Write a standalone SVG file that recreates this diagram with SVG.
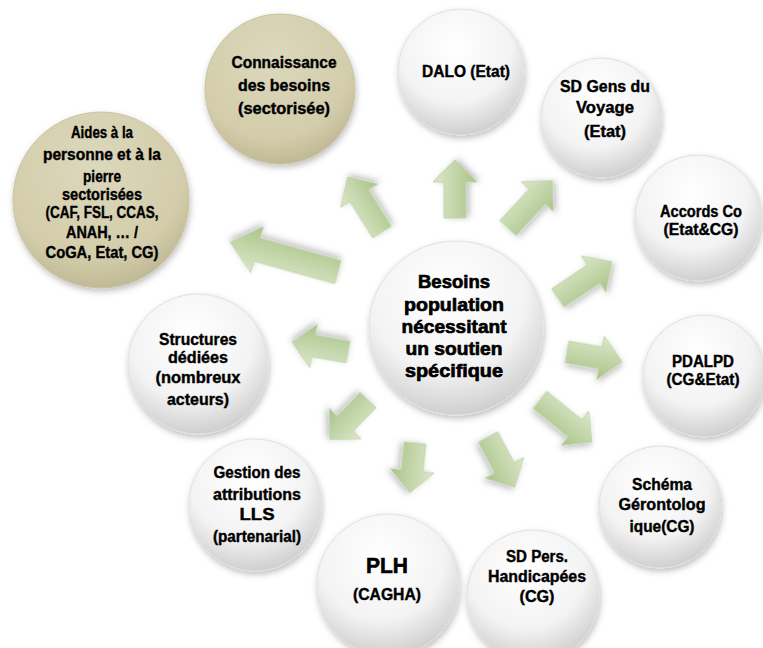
<svg xmlns="http://www.w3.org/2000/svg" width="763" height="648" viewBox="0 0 763 648">
<defs>
<radialGradient id="gw" cx="0.45" cy="0.3" r="0.75">
<stop offset="0" stop-color="#ffffff"/>
<stop offset="0.6" stop-color="#f3f3f3"/>
<stop offset="1" stop-color="#c8c8c8"/>
</radialGradient>
<radialGradient id="gb" cx="0.45" cy="0.3" r="0.75">
<stop offset="0" stop-color="#dcd8bc"/>
<stop offset="0.7" stop-color="#d3cdab"/>
<stop offset="1" stop-color="#b9b38e"/>
</radialGradient>
<linearGradient id="ga" x1="0" y1="0" x2="0" y2="1">
<stop offset="0" stop-color="#dce8c8"/>
<stop offset="1" stop-color="#a9c38a"/>
</linearGradient>
<filter id="sh" x="-20%" y="-20%" width="140%" height="140%">
<feDropShadow dx="1" dy="3" stdDeviation="3" flood-color="#000" flood-opacity="0.25"/>
</filter>
</defs>
<style>
.w{fill:url(#gw);stroke:#e0e0e0;stroke-width:1;filter:url(#sh)}
.b{fill:url(#gb);stroke:#c9c3a0;stroke-width:1;filter:url(#sh)}
.a{fill:url(#ga);stroke:#c3d4ad;stroke-width:1;filter:url(#sh)}
text{font-family:"Liberation Sans",Arial,sans-serif;font-weight:bold;fill:#000;stroke:#000;stroke-width:0.4;text-anchor:middle;font-size:16px}
.c{font-size:19px;stroke-width:0.7}
.p{font-size:22px;stroke-width:0.6}
</style>
<g id="connectors">
<path id="a1" class="a" d="M0,-11 L43,-11 L43,-22 L65,0 L43,22 L43,11 L0,11 Z" transform="translate(382,232) rotate(-122)"/>
<path id="a2" class="a" d="M0,-11 L36,-11 L36,-22 L58,0 L36,22 L36,11 L0,11 Z" transform="translate(455,218) rotate(-90)"/>
<path id="a3" class="a" d="M0,-11 L43,-11 L43,-22 L65,0 L43,22 L43,11 L0,11 Z" transform="translate(508,228) rotate(-47)"/>
<path id="a4" class="a" d="M0,-11 L43,-11 L43,-22 L65,0 L43,22 L43,11 L0,11 Z" transform="translate(558,298) rotate(-34)"/>
<path id="a5" class="a" d="M0,-11 L34,-11 L34,-22 L56,0 L34,22 L34,11 L0,11 Z" transform="translate(567,352) rotate(10)"/>
<path id="a6" class="a" d="M0,-11 L45,-11 L45,-22 L67,0 L45,22 L45,11 L0,11 Z" transform="translate(540,400) rotate(39)"/>
<path id="a7" class="a" d="M0,-11 L35,-11 L35,-22 L57,0 L35,22 L35,11 L0,11 Z" transform="translate(488,437) rotate(62)"/>
<path id="a8" class="a" d="M0,-11 L28,-11 L28,-22 L50,0 L28,22 L28,11 L0,11 Z" transform="translate(415,443) rotate(96)"/>
<path id="a9" class="a" d="M0,-11 L33,-11 L33,-22 L55,0 L33,22 L33,11 L0,11 Z" transform="translate(368,400) rotate(134)"/>
<path id="a10" class="a" d="M0,-11 L35,-11 L35,-22 L57,0 L35,22 L35,11 L0,11 Z" transform="translate(348,352) rotate(190)"/>
<path id="a11" class="a" d="M0,-12 L84,-12 L84,-24 L112,0 L84,24 L84,12 L0,12 Z" transform="translate(338,272) rotate(195.5)"/>
</g>
<g id="center">
<circle class="w" cx="456" cy="328" r="87"/>
<text class="c" x="454" y="288" textLength="72" lengthAdjust="spacingAndGlyphs">Besoins</text>
<text class="c" x="454" y="311" textLength="100" lengthAdjust="spacingAndGlyphs">population</text>
<text class="c" x="454" y="333" textLength="105" lengthAdjust="spacingAndGlyphs">nécessitant</text>
<text class="c" x="454" y="355" textLength="97" lengthAdjust="spacingAndGlyphs">un soutien</text>
<text class="c" x="454" y="377" textLength="98" lengthAdjust="spacingAndGlyphs">spécifique</text>
</g>
<g id="connaissance">
<circle class="b" cx="280" cy="89" r="75"/>
<text x="284" y="68" textLength="105" lengthAdjust="spacingAndGlyphs">Connaissance</text>
<text x="284" y="91" textLength="92" lengthAdjust="spacingAndGlyphs">des besoins</text>
<text x="284" y="114" textLength="92" lengthAdjust="spacingAndGlyphs">(sectorisée)</text>
</g>
<g id="dalo">
<circle class="w" cx="461" cy="72" r="63"/>
<text x="466" y="77" textLength="88" lengthAdjust="spacingAndGlyphs">DALO (Etat)</text>
</g>
<g id="sdgens">
<circle class="w" cx="601" cy="118" r="60"/>
<text x="605" y="92" textLength="90" lengthAdjust="spacingAndGlyphs">SD Gens du</text>
<text x="605" y="113" textLength="58" lengthAdjust="spacingAndGlyphs">Voyage</text>
<text x="605" y="137" textLength="42" lengthAdjust="spacingAndGlyphs">(Etat)</text>
</g>
<g id="accords">
<circle class="w" cx="698" cy="218" r="63"/>
<text x="701" y="217" textLength="82" lengthAdjust="spacingAndGlyphs">Accords Co</text>
<text x="701" y="235" textLength="75" lengthAdjust="spacingAndGlyphs">(Etat&amp;CG)</text>
</g>
<g id="pdalpd">
<circle class="w" cx="704" cy="376" r="61"/>
<text x="703" y="367" textLength="62" lengthAdjust="spacingAndGlyphs">PDALPD</text>
<text x="703" y="385" textLength="73" lengthAdjust="spacingAndGlyphs">(CG&amp;Etat)</text>
</g>
<g id="schema">
<circle class="w" cx="660" cy="507" r="61"/>
<text x="662" y="490" textLength="60" lengthAdjust="spacingAndGlyphs">Schéma</text>
<text x="662" y="510" textLength="87" lengthAdjust="spacingAndGlyphs">Gérontolog</text>
<text x="662" y="532" textLength="65" lengthAdjust="spacingAndGlyphs">ique(CG)</text>
</g>
<g id="sdpers">
<circle class="w" cx="533" cy="596" r="66"/>
<text x="537" y="562" textLength="62" lengthAdjust="spacingAndGlyphs">SD Pers.</text>
<text x="537" y="582" textLength="98" lengthAdjust="spacingAndGlyphs">Handicapées</text>
<text x="537" y="602" textLength="35" lengthAdjust="spacingAndGlyphs">(CG)</text>
</g>
<g id="plh">
<circle class="w" cx="388" cy="585" r="71"/>
<text class="p" x="387" y="573" textLength="42" lengthAdjust="spacingAndGlyphs">PLH</text>
<text x="387" y="600" textLength="68" lengthAdjust="spacingAndGlyphs">(CAGHA)</text>
</g>
<g id="gestion">
<circle class="w" cx="255" cy="505" r="66"/>
<text x="257" y="478" textLength="87" lengthAdjust="spacingAndGlyphs">Gestion des</text>
<text x="257" y="500" textLength="88" lengthAdjust="spacingAndGlyphs">attributions</text>
<text x="257" y="520" textLength="35" lengthAdjust="spacingAndGlyphs">LLS</text>
<text x="257" y="542" textLength="88" lengthAdjust="spacingAndGlyphs">(partenarial)</text>
</g>
<g id="structures">
<circle class="w" cx="198" cy="364" r="70"/>
<text x="198" y="345" textLength="78" lengthAdjust="spacingAndGlyphs">Structures</text>
<text x="198" y="363" textLength="60" lengthAdjust="spacingAndGlyphs">dédiées</text>
<text x="198" y="383" textLength="85" lengthAdjust="spacingAndGlyphs">(nombreux</text>
<text x="198" y="405" textLength="62" lengthAdjust="spacingAndGlyphs">acteurs)</text>
</g>
<g id="aides">
<circle class="b" cx="101" cy="200" r="88"/>
<text x="102" y="138" textLength="62" lengthAdjust="spacingAndGlyphs">Aides à la</text>
<text x="102" y="160" textLength="118" lengthAdjust="spacingAndGlyphs">personne et à la</text>
<text x="102" y="182" textLength="38" lengthAdjust="spacingAndGlyphs">pierre</text>
<text x="102" y="200" textLength="80" lengthAdjust="spacingAndGlyphs">sectorisées</text>
<text x="102" y="218" textLength="113" lengthAdjust="spacingAndGlyphs">(CAF, FSL, CCAS,</text>
<text x="102" y="238" textLength="72" lengthAdjust="spacingAndGlyphs">ANAH, … /</text>
<text x="102" y="258" textLength="113" lengthAdjust="spacingAndGlyphs">CoGA, Etat, CG)</text>
</g>
</svg>
